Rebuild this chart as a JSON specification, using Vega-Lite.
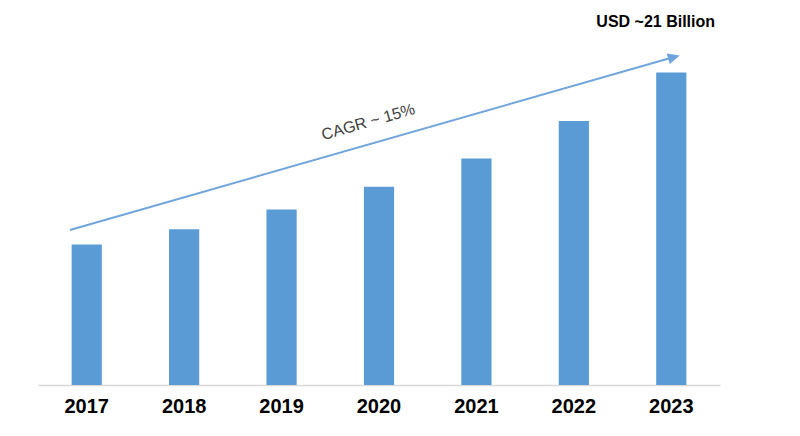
{
  "$schema": "https://vega.github.io/schema/vega-lite/v6.json",
  "width": 682,
  "height": 372,
  "autosize": {"type": "none"},
  "padding": {"left": 38, "top": 13, "right": 80, "bottom": 51},
  "config": {"view": {"stroke": null}, "font": "Liberation Sans"},
  "layer": [
    {
      "data": {"values": [
        {"year": "2017", "value": 9.45},
        {"year": "2018", "value": 10.46},
        {"year": "2019", "value": 11.8},
        {"year": "2020", "value": 13.32},
        {"year": "2021", "value": 15.22},
        {"year": "2022", "value": 17.75},
        {"year": "2023", "value": 21.0}
      ]},
      "mark": {"type": "bar", "color": "#5b9bd5"},
      "encoding": {
        "x": {
          "field": "year", "type": "nominal",
          "scale": {"paddingInner": 0.69, "paddingOuter": 0.345},
          "axis": {
            "title": null, "ticks": false, "labelAngle": 0,
            "domainColor": "#d9d9d9", "domainWidth": 1.5,
            "labelFont": "Liberation Sans", "labelFontSize": 20, "labelFontWeight": "bold",
            "labelColor": "#000000", "labelPadding": 11
          }
        },
        "y": {"field": "value", "type": "quantitative", "scale": {"domain": [0, 25], "nice": false}, "axis": null}
      }
    },
    {
      "data": {"values": [{"x1": 0.328, "y1": 10.42, "x2": 6.528, "y2": 22.04}]},
      "mark": {"type": "rule", "color": "#6fa5dc", "strokeWidth": 2},
      "encoding": {
        "x": {"field": "x1", "type": "quantitative", "scale": {"domain": [0, 7], "nice": false}, "axis": null},
        "x2": {"field": "x2"},
        "y": {"field": "y1", "type": "quantitative", "scale": {"domain": [0, 25], "nice": false}},
        "y2": {"field": "y2"}
      }
    },
    {
      "data": {"values": [{"x": 6.528, "y": 22.04}]},
      "mark": {"type": "point", "shape": "M-1,-0.9L1,0L-1,0.9Z", "size": 144, "angle": 344, "filled": true, "color": "#6fa5dc", "opacity": 1},
      "encoding": {
        "x": {"field": "x", "type": "quantitative", "scale": {"domain": [0, 7], "nice": false}, "axis": null},
        "y": {"field": "y", "type": "quantitative", "scale": {"domain": [0, 25], "nice": false}}
      }
    },
    {
      "data": {"values": [
        {"x": 3.39, "y": 17.67, "label": "CAGR ~ 15%"}
      ]},
      "mark": {"type": "text", "fontSize": 16, "color": "#404040", "angle": 344, "align": "center", "baseline": "middle", "font": "Liberation Sans"},
      "encoding": {
        "x": {"field": "x", "type": "quantitative", "scale": {"domain": [0, 7], "nice": false}, "axis": null},
        "y": {"field": "y", "type": "quantitative", "scale": {"domain": [0, 25], "nice": false}},
        "text": {"field": "label"}
      }
    },
    {
      "data": {"values": [
        {"x": 6.34, "y": 24.4, "label": "USD ~21 Billion"}
      ]},
      "mark": {"type": "text", "fontSize": 16, "fontWeight": "bold", "color": "#000000", "align": "center", "baseline": "middle", "font": "Liberation Sans"},
      "encoding": {
        "x": {"field": "x", "type": "quantitative", "scale": {"domain": [0, 7], "nice": false}, "axis": null},
        "y": {"field": "y", "type": "quantitative", "scale": {"domain": [0, 25], "nice": false}},
        "text": {"field": "label"}
      }
    }
  ],
  "resolve": {"scale": {"x": "independent"}}
}
